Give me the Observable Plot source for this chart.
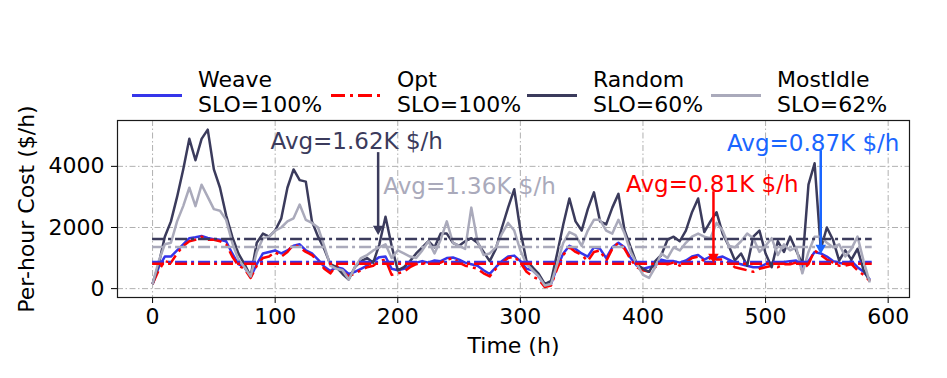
<!DOCTYPE html>
<html><head><meta charset="utf-8">
<script src="https://cdn.jsdelivr.net/npm/d3@7"></script>
<script src="https://cdn.jsdelivr.net/npm/@observablehq/plot@0.6"></script>
<style>
html,body{margin:0;padding:0;background:#fff;}
#wrap{position:relative;width:947px;height:378px;font-family:"DejaVu Sans",sans-serif;}
#chart,#legend{position:absolute;left:0;top:0;}
</style></head><body>
<div id="wrap"><div id="chart"></div><svg id="legend" width="947" height="120"></svg></div>
<script>
// ---- data ----
const hours = [0,5,10,15,20,25,30,35,40,45,50,55,60,65,70,75,80,85,90,95,100,105,110,115,120,125,130,135,140,145,150,155,160,165,170,175,180,185,190,195,200,205,210,215,220,225,230,235,240,245,250,255,260,265,270,275,280,285,290,295,300,305,310,315,320,325,330,335,340,345,350,355,360,365,370,375,380,385,390,395,400,405,410,415,420,425,430,435,440,445,450,455,460,465,470,475,480,485,490,495,500,505,510,515,520,525,530,535,540,545,550,555,560,565,570,575,580,585];
const weave = [150,700,1050,1050,1250,1450,1650,1680,1720,1660,1620,1600,1550,1150,800,700,380,800,1150,1200,1250,1150,1250,1400,1450,1250,1150,950,720,580,700,650,480,550,650,750,900,1030,1050,650,600,650,750,850,900,850,920,900,1000,1020,950,850,800,750,600,480,700,900,1050,1080,900,650,600,400,80,150,700,1150,1400,1300,1150,1050,1350,1300,1000,1350,1500,1350,1000,750,650,700,750,950,900,900,850,920,1050,1100,950,1050,1000,1050,950,850,800,750,700,700,800,850,850,870,900,920,700,900,1200,1150,1050,900,850,800,900,700,550,300];
const opt = [150,600,900,850,1150,1400,1550,1600,1700,1600,1600,1550,1450,1050,750,650,350,750,1000,1050,1200,1050,1200,1450,1350,1200,1100,900,650,500,750,550,400,500,600,700,750,900,950,450,500,550,700,800,850,800,850,850,950,1000,850,750,700,650,500,400,650,850,1000,1050,850,550,400,300,50,100,650,1100,1350,1200,1100,900,1200,1250,900,1300,1500,1300,950,700,600,550,700,850,800,850,750,850,1000,1050,900,1000,950,950,850,700,650,600,550,650,700,750,700,800,800,850,600,800,1250,1100,950,850,750,750,800,600,450,250];
const random = [150,800,1700,2200,3000,3900,4900,4200,4900,5200,3900,3300,2400,1700,1150,800,400,1500,1800,1700,1900,2300,3300,3900,3550,3500,2200,1700,1300,800,700,480,300,700,900,1000,850,1450,2350,1400,600,700,900,1150,1350,1550,1350,1800,1800,1500,1400,1550,1650,1500,1200,900,1300,2000,2650,3250,1900,900,700,480,150,250,1150,2100,2950,2200,1900,2600,3150,2200,2100,2650,3100,1900,1350,800,650,550,900,1100,1600,1700,1550,1900,2500,2950,1850,2200,2500,1800,1400,920,1150,750,1700,1900,1150,700,1550,1200,1700,1250,800,3400,4100,1300,2000,1600,920,1250,950,1300,600,250];
const mostIdle = [150,900,1450,1500,2200,2700,3300,2700,3400,3000,2600,2550,2250,1500,950,700,400,1200,1650,1700,1900,2000,2200,2300,2750,2250,2150,2000,1400,750,650,600,300,700,1000,1100,1250,1350,1450,1000,1250,1150,1050,1000,1250,1550,1150,1600,2200,1500,1400,1300,2650,1550,1100,1150,1350,1800,2150,1900,1250,800,600,400,100,150,800,1500,1850,1750,1400,1900,2250,2250,1900,1800,2250,1800,1200,800,450,350,700,1150,1000,1350,1250,1500,1700,1800,1700,1650,2150,1900,1400,1350,1550,1800,1650,1200,1400,1650,1100,1450,1250,1350,500,1200,1700,1700,1500,1350,1450,1050,1300,1700,900,200];

const seriesNames = ["Weave","Opt","Random","MostIdle"];
const sloLabels = ["SLO=100%","SLO=100%","SLO=60%","SLO=62%"];
const averages = [870, 810, 1620, 1360];
const xTicks = [0,100,200,300,400,500,600];
const yTicks = [0,2000,4000];

const annoTexts = ["Avg=1.62K $/h","Avg=1.36K $/h","Avg=0.81K $/h","Avg=0.87K $/h"];
const annoX = [96.2, 188.2, 386.2, 468.5];
const annoY = [4580, 3105, 3170, 4515];
const arrowX = [184, 457.5, 545];
const arrowTop = [4449, 3170, 4515];
const arrowTip = [1760, 843, 1138];

// ---- styles ----
const colors = ["#3535ea","#ff0000","#3b3b5c","#aaaabb"];
const dashes = [null, "14,5,3,5", null, null];
const annoColors = ["#3b3b5c","#aaaabb","#ff0000","#1a66ff"];
const arrowColors = ["#3b3b5c","#ff0000","#1a66ff"];

const rows = hours.map((h,i)=>({h, v:[weave[i],opt[i],random[i],mostIdle[i]]}));

const marks = [
  Plot.ruleX(xTicks, {x: d=>d, stroke:"#b0b0b0", strokeWidth:1, strokeDasharray:"6,2.5,1.5,2.5"}),
  Plot.ruleY(yTicks, {y: d=>d, stroke:"#b0b0b0", strokeWidth:1, strokeDasharray:"6,2.5,1.5,2.5"}),
];
for (let k=0;k<4;k++){
  marks.push(Plot.line(rows, {x:"h", y:d=>d.v[k], stroke:colors[k], strokeWidth:2.5,
    strokeDasharray: dashes[k] || undefined, strokeLinejoin:"round", strokeLinecap:"butt"}));
}
const avgOrder = [2,3,0,1];
for (const k of avgOrder){
  marks.push(Plot.ruleY([averages[k]], {y:d=>d, x1:0, x2:587, stroke:colors[k], strokeWidth:2.5, strokeDasharray:"12,4,3,4"}));
}
for (let i=0;i<arrowX.length;i++){
  marks.push(Plot.ruleX([arrowX[i]], {x:d=>d, y1:arrowTop[i], y2:arrowTip[i]+250, stroke:arrowColors[i], strokeWidth:2.5}));
  marks.push(Plot.dot([arrowX[i]], {x:d=>d, y:arrowTip[i], symbol:"triangle", r:3.9, rotate:180, dy:-6,
    fill:arrowColors[i], stroke:"none"}));
}
for (let i=0;i<annoTexts.length;i++){
  marks.push(Plot.text([annoTexts[i]], {x:annoX[i], y:annoY[i], text:d=>d, fill:annoColors[i],
    textAnchor:"start", lineAnchor:"bottom", fontSize:23}));
}
marks.push(Plot.text(["Time (h)"], {frameAnchor:"bottom", dy:48, text:d=>d, textAnchor:"middle", lineAnchor:"middle", fontSize:22}));
marks.push(Plot.text(["Per-hour Cost ($/h)"], {frameAnchor:"left", dx:-90.5, rotate:-90, text:d=>d, textAnchor:"middle", lineAnchor:"middle", fontSize:22}));
marks.push(Plot.frame({stroke:"#1a1a1a", strokeWidth:1.2}));

const chart = Plot.plot({
  width:947, height:378,
  marginLeft:117, marginRight:38, marginTop:120, marginBottom:81,
  style:{fontFamily:'"DejaVu Sans", sans-serif', fontSize:"22px", color:"#000", background:"transparent", overflow:"visible"},
  x:{domain:[-28.6,617.4], ticks:xTicks, tickSize:6, tickPadding:5, tickFormat:"d", label:null},
  y:{domain:[-290,5500], ticks:yTicks, tickSize:6, tickPadding:7, tickFormat:"d", label:null},
  marks
});
document.getElementById("chart").appendChild(chart);

// ---- legend ----
const leg = d3.select("#legend");
const legX = [132, 331, 527, 711];
for (let k=0;k<4;k++){
  leg.append("line").attr("x1",legX[k]).attr("x2",legX[k]+50).attr("y1",95.5).attr("y2",95.5)
    .attr("stroke",colors[k]).attr("stroke-width",3).attr("stroke-dasharray",dashes[k]||null);
  const t = leg.append("text").attr("x",legX[k]+66).attr("y",87)
    .attr("font-family",'"DejaVu Sans", sans-serif').attr("font-size",22).attr("fill","#000");
  t.append("tspan").attr("x",legX[k]+66).attr("y",87).text(seriesNames[k]);
  t.append("tspan").attr("x",legX[k]+66).attr("y",112).text(sloLabels[k]);
}
</script></body></html>
